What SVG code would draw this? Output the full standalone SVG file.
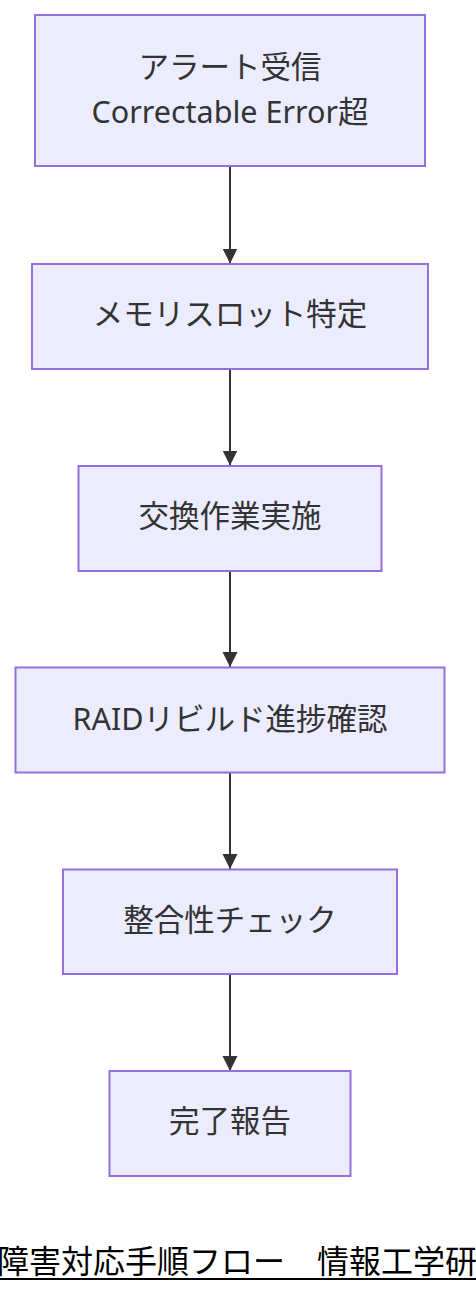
<svg xmlns="http://www.w3.org/2000/svg" width="476" height="1292" viewBox="0 0 476 1292">
<style>
.node rect{fill:#ECECFF;stroke:#9370DB;stroke-width:2}
.node text{font-family:"Noto Sans","Noto Sans CJK JP",sans-serif;font-size:30.5px;fill:#333333;text-anchor:middle}
.edge{stroke:#333333;stroke-width:2;fill:none}
.title{font-family:"Noto Sans CJK JP",sans-serif;font-size:32px;fill:#000000}
</style>
<defs>
<marker id="arrow" viewBox="0 0 10 10" refX="10" refY="5" markerWidth="15" markerHeight="16" markerUnits="userSpaceOnUse" orient="auto">
<path d="M0,0 L10,5 L0,10 z" fill="#333333"/>
</marker>
</defs>
<rect x="0" y="0" width="476" height="1292" fill="#ffffff"/>
<g id="connectors">
<path class="edge" d="M230,166 L230,263.5" marker-end="url(#arrow)"/>
<path class="edge" d="M230,369 L230,465.5" marker-end="url(#arrow)"/>
<path class="edge" d="M230,571 L230,667" marker-end="url(#arrow)"/>
<path class="edge" d="M230,773 L230,869" marker-end="url(#arrow)"/>
<path class="edge" d="M230,974 L230,1071" marker-end="url(#arrow)"/>
</g>
<g id="node1" class="node">
<rect x="35" y="15" width="390" height="151"/>
<text x="230" y="78">アラート受信</text>
<text x="230" y="123">Correctable Error超</text>
</g>
<g id="node2" class="node">
<rect x="32" y="264" width="396" height="105"/>
<text x="230" y="325">メモリスロット特定</text>
</g>
<g id="node3" class="node">
<rect x="78.5" y="466" width="303" height="105"/>
<text x="230" y="527">交換作業実施</text>
</g>
<g id="node4" class="node">
<rect x="15.5" y="667.5" width="429" height="105"/>
<text x="230" y="729.5">RAIDリビルド進捗確認</text>
</g>
<g id="node5" class="node">
<rect x="63" y="869.5" width="334" height="104.5"/>
<text x="230" y="931">整合性チェック</text>
</g>
<g id="node6" class="node">
<rect x="109.5" y="1071" width="241" height="105"/>
<text x="230" y="1132">完了報告</text>
</g>
<g id="title">
<text class="title" x="-3" y="1273">障害対応手順フロー　情報工学研</text>
<line x1="0" y1="1279" x2="476" y2="1279" stroke="#000000" stroke-width="2"/>
</g>
</svg>
